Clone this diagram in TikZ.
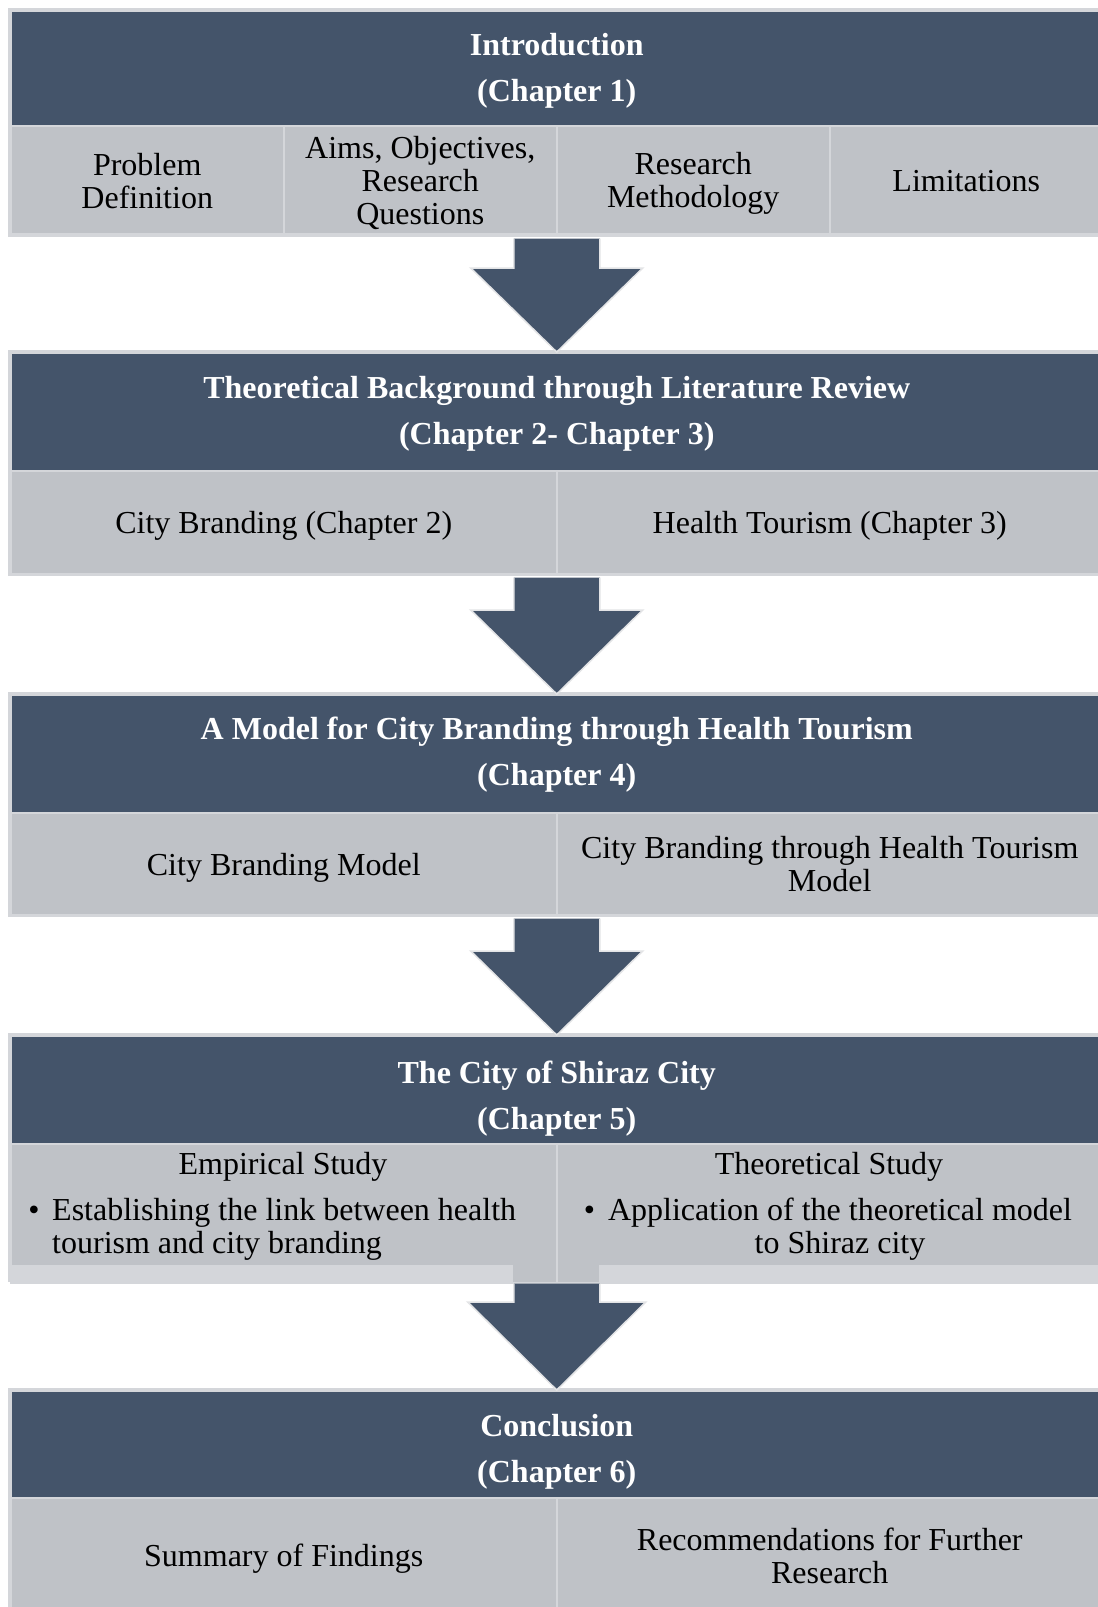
\documentclass[tikz,border=0pt]{standalone}
\usepackage{fontspec}
\setmainfont{Liberation Serif}
\usetikzlibrary{calc}

\definecolor{slate}{HTML}{44546A}
\definecolor{cellgray}{HTML}{BFC2C7}
\definecolor{rim}{HTML}{D4D6DA}
\definecolor{arrowrim}{HTML}{E3E4E6}

\tikzset{
  hdr/.style={fill=slate, draw=rim, line width=1.5pt, anchor=north west,
    minimum width=1092pt, inner sep=0pt},
  hdrtext/.style={inner sep=0pt, text=white,
    font=\bfseries\fontsize{32}{46}\selectfont, align=center},
  cell/.style={fill=cellgray, draw=rim, line width=1.5pt, anchor=north west,
    inner sep=0pt},
  celltext/.style={inner sep=0pt, text=black,
    font=\fontsize{32}{33}\selectfont, align=center},
  lbl/.style={inner sep=0pt, text=black, font=\fontsize{32}{33}\selectfont},
  backdrop/.style={fill=rim},
  arrowbody/.style={fill=slate},
  arrowedge/.style={draw=arrowrim, line width=1.5pt, line join=miter},
}

% block arrow: #1 shaft top (centre), #2 tip, #3 head height, #4 head half width, #5 shaft half width
\newcommand\flowarrow[5]{%
  \fill[arrowbody] let \p1=(#1), \p2=(#2) in
    (\x2-#5pt,\y1) -- (\x2-#5pt,\y2+#3pt) -- (\x2-#4pt,\y2+#3pt) -- (\x2,\y2)
    -- (\x2+#4pt,\y2+#3pt) -- (\x2+#5pt,\y2+#3pt) -- (\x2+#5pt,\y1) -- cycle;
  \draw[arrowedge] let \p1=(#1), \p2=(#2) in
    (\x2-#5pt,\y1) -- (\x2-#5pt,\y2+#3pt) -- (\x2-#4pt,\y2+#3pt) -- (\x2,\y2)
    -- (\x2+#4pt,\y2+#3pt) -- (\x2+#5pt,\y2+#3pt) -- (\x2+#5pt,\y1);
}

\begin{document}
\begin{tikzpicture}[x=1pt,y=-1pt]
\useasboundingbox (0,0) rectangle (1098,1607);
\fill[white] (0,0) rectangle (1098,1607);

% light backdrops giving each block its pale rim and bottom strip
\fill[backdrop] (8,8) rectangle (1104,237);
\fill[backdrop] (8,350) rectangle (1104,576);
\fill[backdrop] (8,692) rectangle (1104,917);
\fill[backdrop] (8,1033) rectangle (1104,1282);
\fill[backdrop] (8,1388) rectangle (1104,1620);

% ---- Chapter 1
\node[hdr, minimum height=115pt] (h1) at (10,10) {};
\node[hdrtext] (h1t) at ($(h1.center)+(0,3)$) {Introduction\\(Chapter 1)};
\node[cell, minimum width=273pt, minimum height=108pt] (p1) at (10,125) {};
\node[cell, minimum width=273pt, minimum height=108pt] (p2) at (283,125) {};
\node[cell, minimum width=273pt, minimum height=108pt] (p3) at (556,125) {};
\node[cell, minimum width=273pt, minimum height=108pt] (p4) at (829,125) {};
\node[celltext] (p1t) at ($(p1.center)+(0,1)$) {Problem\\Definition};
\node[celltext] (p2t) at ($(p2.center)+(0,3)$) {Aims, Objectives,\\Research\\Questions};
\node[celltext] (p3t) at ($(p3.center)+(0,4)$) {Research\\Methodology};
\node[celltext] (p4t) at ($(p4.center)+(0,1)$) {Limitations};

% ---- Chapters 2-3
\node[hdr, minimum height=118pt] (h2) at (10,352) {};
\node[hdrtext] (h2t) at ($(h2.center)+(0,2)$) {Theoretical Background through Literature Review\\(Chapter 2- Chapter 3)};
\node[cell, minimum width=546pt, minimum height=103pt] (b1) at (10,470) {};
\node[cell, minimum width=546pt, minimum height=103pt] (b2) at (556,470) {};
\node[celltext] (b1t) at ($(b1.center)+(0,4)$) {City Branding (Chapter 2)};
\node[celltext] (b2t) at ($(b2.center)+(0,4)$) {Health Tourism (Chapter 3)};

% ---- Chapter 4
\node[hdr, minimum height=118pt] (h3) at (10,694) {};
\node[hdrtext] (h3t) at ($(h3.center)+(0,1)$) {A Model for City Branding through Health Tourism\\(Chapter 4)};
\node[cell, minimum width=546pt, minimum height=102pt] (m1) at (10,812) {};
\node[cell, minimum width=546pt, minimum height=102pt] (m2) at (556,812) {};
\node[celltext] (m1t) at ($(m1.center)+(0,4)$) {City Branding Model};
\node[celltext] (m2t) at (m2.center) {City Branding through Health Tourism\\Model};

% ---- Chapter 5
\node[hdr, minimum height=108pt] (h4) at (10,1035) {};
\node[hdrtext] (h4t) at ($(h4.center)+(0,9)$) {The City of Shiraz City\\(Chapter 5)};
\node[cell, minimum width=546pt, minimum height=139pt] (e1) at (10,1143) {};
\node[cell, minimum width=546pt, minimum height=139pt] (e2) at (556,1143) {};
\fill[backdrop] (10,1265) rectangle (513,1282);
\fill[backdrop] (599,1265) rectangle (1102,1282);

\node[lbl, anchor=base] (e1t) at (283,1174) {Empirical Study};
\node[lbl, anchor=base] (e1b) at (34,1220) {\textbullet};
\node[lbl, anchor=base west] (e1l1) at (52,1220) {Establishing the link between health};
\node[lbl, anchor=base west] (e1l2) at (52,1253.5) {tourism and city branding};

\node[lbl, anchor=base] (e2t) at (829,1174) {Theoretical Study};
\node[lbl, anchor=base] (e2b) at (589.5,1220) {\textbullet};
\node[lbl, anchor=base] (e2l1) at (840,1220) {Application of the theoretical model};
\node[lbl, anchor=base] (e2l2) at (840,1253.5) {to Shiraz city};

% ---- Chapter 6
\node[hdr, minimum height=107pt] (h5) at (10,1390) {};
\node[hdrtext] (h5t) at ($(h5.center)+(0,8)$) {Conclusion\\(Chapter 6)};
\node[cell, minimum width=546pt, minimum height=118pt] (c1) at (10,1497) {};
\node[cell, minimum width=546pt, minimum height=118pt] (c2) at (556,1497) {};
\node[celltext] (c1t) at ($(c1.center)+(0,2)$) {Summary of Findings};
\node[celltext] (c2t) at ($(c2.center)+(0,-1)$) {Recommendations for Further\\Research};

% ---- arrows between the stages
\coordinate (s1) at ($(p2.south east)+(0,4)$);
\coordinate (s2) at ($(b1.south east)+(0,3)$);
\coordinate (s3) at ($(m1.south east)+(0,3)$);
\coordinate (s4) at (e1.south east);
\flowarrow{s1}{h2.north}{84}{86}{43}
\flowarrow{s2}{h3.north}{84}{86}{43}
\flowarrow{s3}{h4.north}{84}{86}{43}
\flowarrow{s4}{h5.north}{88}{89}{43}
\end{tikzpicture}
\end{document}
